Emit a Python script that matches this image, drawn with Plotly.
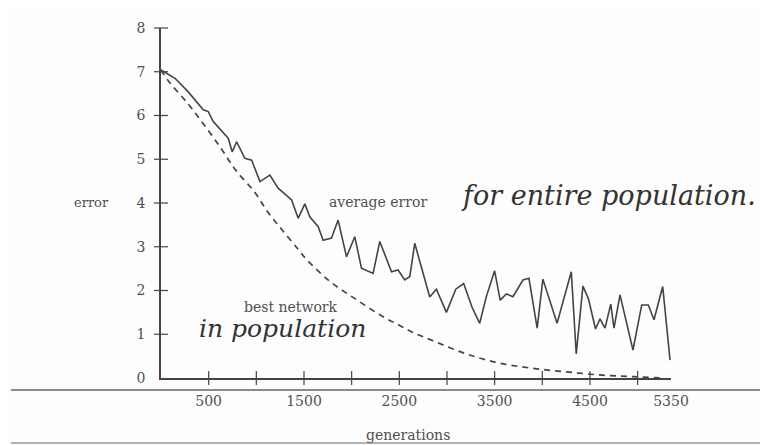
import plotly.graph_objects as go

# average error for entire population
avg_gen = [0, 147, 286, 391, 443, 496, 548, 705, 747, 793, 880, 951, 1038, 1142, 1229,
           1370, 1439, 1509, 1562, 1649, 1701, 1789, 1858, 1946, 2033, 2103, 2225, 2295,
           2418, 2487, 2557, 2610, 2662, 2732, 2819, 2889, 2994, 3092, 3175, 3264, 3343,
           3413, 3500, 3558, 3623, 3692, 3797, 3860, 3946, 4006, 4155, 4304, 4356, 4426,
           4484, 4558, 4605, 4658, 4718, 4752, 4815, 4951, 5043, 5112, 5172, 5263, 5340]
avg_err = [7.04, 6.85, 6.54, 6.28, 6.13, 6.09, 5.86, 5.48, 5.17, 5.40, 5.02, 4.98, 4.49,
           4.64, 4.34, 4.07, 3.65, 3.98, 3.68, 3.46, 3.15, 3.20, 3.61, 2.77, 3.23, 2.51,
           2.39, 3.12, 2.43, 2.47, 2.24, 2.32, 3.08, 2.53, 1.85, 2.03, 1.50, 2.03, 2.16,
           1.61, 1.25, 1.86, 2.45, 1.78, 1.92, 1.86, 2.24, 2.28, 1.14, 2.26, 1.25, 2.43,
           0.55, 2.10, 1.81, 1.12, 1.35, 1.14, 1.69, 1.14, 1.90, 0.64, 1.67, 1.67, 1.33,
           2.09, 0.41]

# best network in population
best_gen = [0, 77, 286, 461, 636, 776, 985, 1125, 1265, 1439, 1527, 1771, 2051, 2330,
            2505, 2644, 2854, 3204, 3553, 3902, 4251, 4601, 4950, 5265]
best_err = [7.04, 6.79, 6.26, 5.76, 5.23, 4.77, 4.24, 3.78, 3.40, 2.94, 2.71, 2.21, 1.79,
            1.40, 1.20, 1.04, 0.85, 0.55, 0.34, 0.22, 0.14, 0.07, 0.03, 0.0]

x_tick_marks = [500, 1000, 1500, 2000, 2500, 3000, 3500, 4000, 4500, 5000]
x_tick_vals = [500, 1500, 2500, 3500, 4500, 5350]
x_tick_text = ["500", "1500", "2500", "3500", "4500", "5350"]
y_tick_vals = [0, 1, 2, 3, 4, 5, 6, 7, 8]

INK = "#444444"
TXT = "#505050"
HAND = "#333333"
BG = "#fdfdfd"
PRINT_FONT = "DejaVu Serif"
HAND_FONT = "DejaVu Serif"

fig = go.Figure()

fig.add_trace(go.Scatter(x=avg_gen, y=avg_err, mode="lines",
                         line=dict(color=INK, width=1.6), cliponaxis=False,
                         showlegend=False, hoverinfo="skip"))
fig.add_trace(go.Scatter(x=best_gen, y=best_err, mode="lines",
                         line=dict(color=INK, width=1.7, dash="6px,5px", shape="spline"),
                         cliponaxis=False, showlegend=False, hoverinfo="skip"))
# tick marks crossing the axes
fig.add_trace(go.Scatter(x=x_tick_marks, y=[0] * len(x_tick_marks), mode="markers",
                         marker=dict(symbol="line-ns", size=10,
                                     line=dict(color=INK, width=1.2)),
                         cliponaxis=False, showlegend=False, hoverinfo="skip"))
fig.add_trace(go.Scatter(x=[0] * (len(y_tick_vals) - 1), y=y_tick_vals[1:], mode="markers",
                         marker=dict(symbol="line-ew", size=10,
                                     line=dict(color=INK, width=1.2)),
                         cliponaxis=False, showlegend=False, hoverinfo="skip"))

# scan lines
fig.add_shape(type="line", xref="paper", yref="paper", x0=-0.294, x1=1.2,
              y0=-0.034, y1=-0.034, line=dict(color="#8a8a8a", width=2))
fig.add_shape(type="line", xref="paper", yref="paper", x0=-0.294, x1=1.2,
              y0=-0.186, y1=-0.186, line=dict(color="#9a9a9a", width=1.5))

fig.add_annotation(text="error", xref="paper", x=-0.137, xanchor="center",
                   yref="y", y=4.02, yanchor="middle", showarrow=False,
                   font=dict(family=PRINT_FONT, size=13, color=TXT))
fig.add_annotation(text="average error", x=2276, y=4.02, showarrow=False,
                   font=dict(family=PRINT_FONT, size=14, color=TXT))
fig.add_annotation(text="best network", x=1364, y=1.62, showarrow=False,
                   font=dict(family=PRINT_FONT, size=14, color=TXT))
fig.add_annotation(text="generations", xref="paper", x=0.484, xanchor="center",
                   yref="paper", y=-0.163, yanchor="middle", showarrow=False,
                   font=dict(family=PRINT_FONT, size=14, color=TXT))
fig.add_annotation(text="<i>in population</i>", x=1275, y=1.14, showarrow=False,
                   font=dict(family=HAND_FONT, size=25, color=HAND))
fig.add_annotation(text="<i>for entire population.</i>", x=3130, xanchor="left",
                   y=4.18, showarrow=False,
                   font=dict(family=HAND_FONT, size=27, color=HAND))

# page body has an 8px margin, so the figure is offset by (8, 8)
fig.update_layout(
    width=760, height=437,
    margin=dict(l=153, r=97, t=20, b=67),
    paper_bgcolor=BG, plot_bgcolor=BG,
    xaxis=dict(range=[0, 5350], showgrid=False, zeroline=False, showline=True,
               linecolor=INK, linewidth=2, ticks="", tickvals=x_tick_vals,
               ticktext=x_tick_text, ticklabelstandoff=9,
               tickfont=dict(family=PRINT_FONT, size=14, color=TXT)),
    yaxis=dict(range=[0, 8], showgrid=False, zeroline=False, showline=True,
               linecolor=INK, linewidth=1.5, ticks="", tickvals=y_tick_vals,
               ticklabelstandoff=11,
               tickfont=dict(family=PRINT_FONT, size=14, color=TXT)),
)

fig.write_html("out.html")
